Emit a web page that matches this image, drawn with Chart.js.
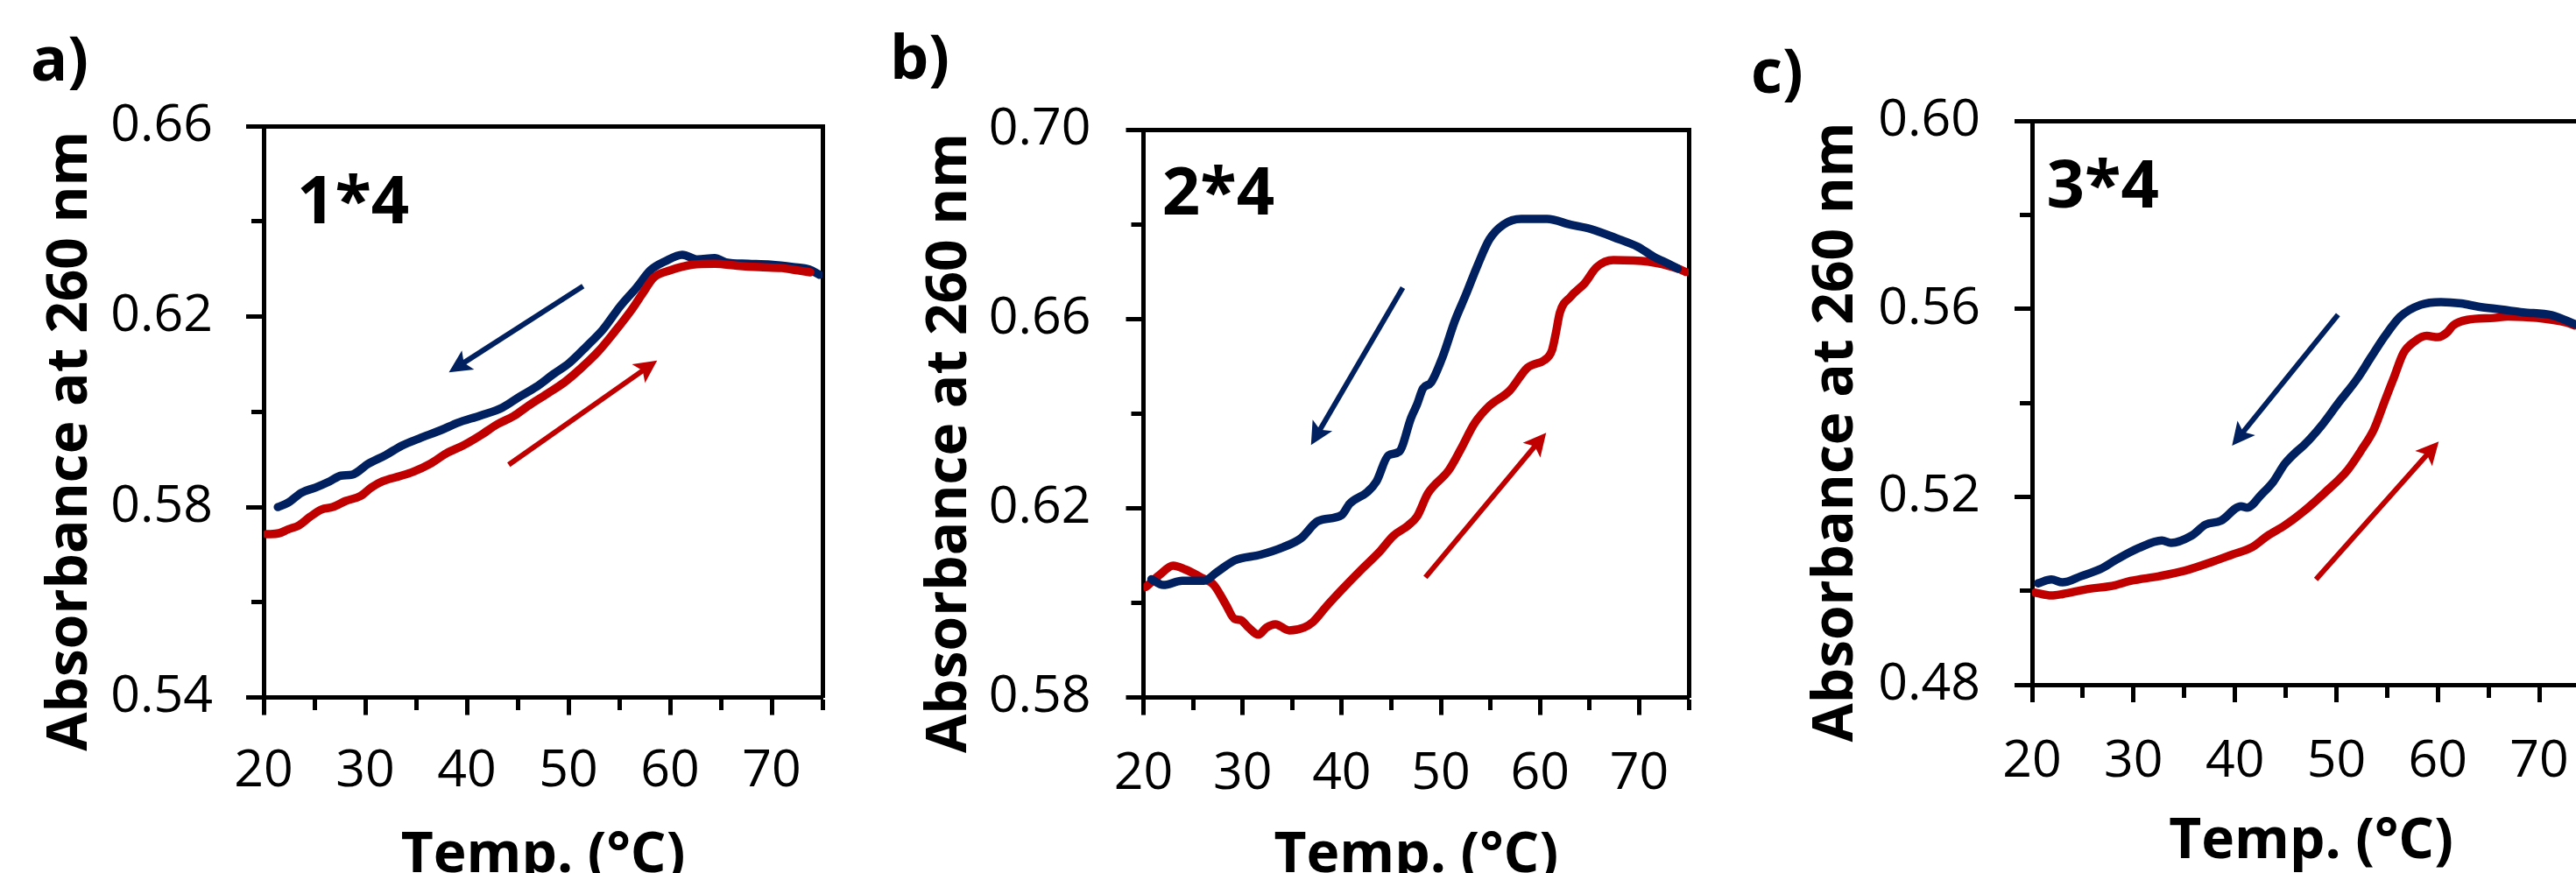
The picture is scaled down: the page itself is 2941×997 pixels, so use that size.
<!DOCTYPE html>
<html>
<head>
<meta charset="utf-8">
<script src="https://cdn.jsdelivr.net/npm/chart.js@4.4.1/dist/chart.umd.min.js"></script>
<style>
  html, body { margin: 0; padding: 0; background: #fff; overflow: hidden; width: 2941px; height: 997px; }
  .panel { position: absolute; top: 0; }
</style>
</head>
<body>
<div class="panel" style="left:0px"><canvas id="chartA" width="990" height="1040" style="width:990px;height:1040px"></canvas></div>
<div class="panel" style="left:990px"><canvas id="chartB" width="970" height="1040" style="width:970px;height:1040px"></canvas></div>
<div class="panel" style="left:1960px"><canvas id="chartC" width="1060" height="1040" style="width:1060px;height:1040px"></canvas></div>
<script>
// ---------------- DATA ----------------
// Panel a) 1*4
const tempA_cool = [21.4,22.4,23.7,25.1,26.5,27.6,28.7,30.3,32.0,33.6,35.3,37.5,39.1,41.3,43.5,45.2,46.8,48.5,50.1,51.8,53.4,55.1,56.7,58.1,59.5,61.2,62.7,64.4,65.5,67.7,69.9,72.1,73.7,74.7];
const absA_cool  = [0.5800,0.5809,0.5830,0.5841,0.5854,0.5866,0.5868,0.5891,0.5909,0.5929,0.5944,0.5962,0.5977,0.5992,0.6009,0.6032,0.6052,0.6079,0.6103,0.6138,0.6173,0.6222,0.6261,0.6298,0.6316,0.6330,0.6320,0.6323,0.6314,0.6311,0.6309,0.6304,0.6299,0.6288];
const tempA_heat = [20.3,21.5,22.4,23.5,24.6,25.7,26.8,28.1,29.5,30.6,31.7,33.4,34.7,36.4,38.0,39.7,41.3,43.0,44.6,46.0,47.9,49.6,51.2,52.9,54.5,56.2,57.3,58.4,60.0,62.2,64.4,66.6,68.8,71.0,72.6,73.8];
const absA_heat  = [0.5743,0.5745,0.5753,0.5762,0.5780,0.5795,0.5800,0.5813,0.5823,0.5841,0.5854,0.5865,0.5874,0.5891,0.5913,0.5930,0.5950,0.5974,0.5991,0.6012,0.6038,0.6062,0.6091,0.6126,0.6167,0.6214,0.6249,0.6282,0.6297,0.6309,0.6311,0.6307,0.6304,0.6302,0.6297,0.6293];

// Panel b) 2*4
const tempB_cool = [20.8,22.0,23.9,26.1,27.4,29.2,31.8,34.1,35.9,37.6,40.0,40.8,42.6,43.5,44.7,45.8,47.0,47.6,48.2,49.0,50.2,51.4,52.5,53.7,54.9,56.3,58.1,60.7,63.1,65.1,68.0,69.8,71.5,73.0,73.9];
const absB_cool  = [0.6050,0.6038,0.6047,0.6047,0.6065,0.6090,0.6102,0.6118,0.6137,0.6173,0.6186,0.6210,0.6235,0.6257,0.6312,0.6320,0.6392,0.6420,0.6454,0.6466,0.6522,0.6596,0.6651,0.6714,0.6769,0.6800,0.6812,0.6812,0.6800,0.6791,0.6769,0.6754,0.6732,0.6717,0.6707];
const tempB_heat = [20.25,21.6,23.0,24.2,25.9,27.1,28.3,29.2,29.8,30.6,31.6,32.4,33.3,34.7,36.2,37.1,38.5,40.0,42.0,43.8,45.2,46.7,47.6,48.7,50.8,52.0,53.4,54.9,56.9,58.7,59.3,60.4,61.2,61.6,62.0,63.1,64.5,65.7,67.4,70.9,73.9,74.7];
const absB_heat  = [0.6034,0.6059,0.6079,0.6071,0.6053,0.6038,0.5997,0.5966,0.5964,0.5948,0.5933,0.5948,0.5955,0.5942,0.5948,0.5960,0.5994,0.6028,0.6071,0.6108,0.6142,0.6164,0.6183,0.6232,0.6281,0.6325,0.6380,0.6417,0.6448,0.6497,0.6504,0.6513,0.6534,0.6571,0.6614,0.6648,0.6676,0.6710,0.6725,0.6722,0.6707,0.6700];

// Panel c) 3*4
const tempC_cool = [20.6,21.9,23.0,24.8,26.8,28.2,30.5,32.8,33.7,35.7,37.1,38.6,40.6,41.2,42.6,43.8,44.9,46.0,46.8,48.5,50.2,52.0,53.4,54.8,56.3,58.3,60.3,62.3,64.0,66.3,68.4,71.2,73.5];
const absC_cool  = [0.5016,0.5024,0.5018,0.5031,0.5047,0.5065,0.5091,0.5107,0.5102,0.5117,0.5141,0.5149,0.5180,0.5177,0.5205,0.5233,0.5270,0.5295,0.5310,0.5351,0.5400,0.5450,0.5497,0.5543,0.5584,0.5609,0.5615,0.5612,0.5605,0.5599,0.5593,0.5587,0.5568];
const tempC_heat = [20.3,21.9,23.0,25.3,28.2,29.7,32.5,35.1,37.4,39.7,41.7,43.2,44.9,46.7,48.8,51.1,52.5,53.7,54.8,55.7,56.6,57.7,58.9,60.0,60.9,61.5,62.9,65.5,66.9,69.8,72.7,73.5];
const absC_heat  = [0.4996,0.4990,0.4993,0.5003,0.5012,0.5021,0.5031,0.5043,0.5059,0.5077,0.5093,0.5117,0.5139,0.5168,0.5208,0.5257,0.5301,0.5344,0.5406,0.5456,0.5506,0.5531,0.5543,0.5540,0.5550,0.5565,0.5577,0.5581,0.5584,0.5581,0.5571,0.5565];

// Tick labels
const xTickLabels = [20, 30, 40, 50, 60, 70];
const yTickLabelsA = [0.54, 0.58, 0.62, 0.66];
const yTickLabelsB = [0.58, 0.62, 0.66, 0.70];
const yTickLabelsC = [0.48, 0.52, 0.56, 0.60];

// Text
const panelLabels = ['a)', 'b)', 'c)'];
const panelTags = ['1*4', '2*4', '3*4'];
const xTitle = 'Temp. (°C)';
const yTitle = 'Absorbance at 260 nm';

// Arrow annotations (data units: [temp, absorbance])
const arrowA_cool = [[51.44, 0.6264], [38.23, 0.6083]];
const arrowA_heat = [[44.12, 0.5889], [58.73, 0.6108]];
const arrowB_cool = [[46.16, 0.6667], [36.90, 0.6334]];
const arrowB_heat = [[48.44, 0.6054], [60.62, 0.6360]];
const arrowC_cool = [[50.16, 0.5588], [39.71, 0.5309]];
const arrowC_heat = [[47.98, 0.5024], [60.09, 0.5318]];
// Tag anchor (data units)
const tagAtA = [23.27, 0.6396];
const tagAtB = [21.88, 0.6821];
const tagAtC = [21.43, 0.5816];

// ---------------- STYLE ----------------
const BLUE = '#002060';
const RED = '#C00000';
const FONT = "'Open Sans', sans-serif";
Chart.defaults.color = '#000';
Chart.defaults.font.family = FONT;

const decorPlugin = {
  id: 'panelDecor',
  afterDatasetsDraw(chart, args, opts) {
    const ctx = chart.ctx;
    const xs = chart.scales.x, ys = chart.scales.y;
    ctx.save();
    (opts.arrows || []).forEach(a => {
      const x0 = xs.getPixelForValue(a.pts[0][0]), y0 = ys.getPixelForValue(a.pts[0][1]);
      const x1 = xs.getPixelForValue(a.pts[1][0]), y1 = ys.getPixelForValue(a.pts[1][1]);
      const dx = x1 - x0, dy = y1 - y0, len = Math.hypot(dx, dy);
      const ux = dx / len, uy = dy / len, nx = -uy, ny = ux;
      const L = 26, W = 13;
      ctx.strokeStyle = a.color; ctx.fillStyle = a.color;
      ctx.lineWidth = 6; ctx.lineCap = 'butt';
      ctx.beginPath();
      ctx.moveTo(x0, y0);
      ctx.lineTo(x1 - ux * L * 0.7, y1 - uy * L * 0.7);
      ctx.stroke();
      ctx.beginPath();
      ctx.moveTo(x1, y1);
      ctx.lineTo(x1 - ux * L + nx * W, y1 - uy * L + ny * W);
      ctx.lineTo(x1 - ux * L * 0.78, y1 - uy * L * 0.78);
      ctx.lineTo(x1 - ux * L - nx * W, y1 - uy * L - ny * W);
      ctx.closePath();
      ctx.fill();
    });
    if (opts.tag) {
      ctx.font = "bold 76px " + FONT;
      ctx.fillStyle = '#000';
      ctx.textAlign = 'left';
      ctx.textBaseline = 'alphabetic';
      ctx.fillText(opts.tag, xs.getPixelForValue(opts.tagAt[0]), ys.getPixelForValue(opts.tagAt[1]));
    }
    ctx.restore();
  }
};

function pts(t, a) { return t.map((v, i) => ({ x: v, y: a[i] })); }

function makePanel(id, p) {
  const near = (list, v) => list.some(m => Math.abs(m - v) < 1e-6);
  const isMajorX = v => near(xTickLabels, v);
  const isMajorY = v => near(p.yLabels, v);
  const titleFont = { family: FONT, size: 64, weight: 'bold', lineHeight: 1.2 };
  const labelFont = { family: FONT, size: 70, weight: 'bold', lineHeight: 1.2 };
  const tickFont = { family: FONT, size: 59, lineHeight: 1.2 };
  const lineStyle = { borderWidth: 9.5, pointRadius: 0, cubicInterpolationMode: 'monotone', borderCapStyle: 'round', borderJoinStyle: 'round', fill: false };
  return new Chart(document.getElementById(id), {
    type: 'line',
    data: {
      datasets: [
        Object.assign({ label: 'cooling', data: pts(p.coolT, p.coolA), borderColor: BLUE, backgroundColor: BLUE, order: p.blueOrder }, lineStyle),
        Object.assign({ label: 'heating', data: pts(p.heatT, p.heatA), borderColor: RED, backgroundColor: RED, order: p.redOrder }, lineStyle)
      ]
    },
    options: {
      responsive: false,
      animation: false,
      devicePixelRatio: 1,
      layout: { padding: { left: p.padL, right: p.padR, top: 0, bottom: 0 } },
      plugins: {
        legend: { display: false },
        tooltip: { enabled: false },
        title: {
          display: true, text: p.label, align: 'start', color: '#000',
          font: labelFont, padding: { top: p.titleTop, bottom: p.titleBottom }
        },
        panelDecor: { tag: p.tag, tagAt: p.tagAt, arrows: p.arrows }
      },
      scales: {
        x: {
          type: 'linear', position: 'bottom', min: 20, max: 75,
          afterFit: s => { s.height = p.xH; },
          ticks: {
            stepSize: 5, autoSkip: false, maxRotation: 0, minRotation: 0, padding: p.xPad,
            font: tickFont, color: '#000',
            callback: v => isMajorX(v) ? String(Math.round(v)) : ''
          },
          grid: {
            drawOnChartArea: false, drawTicks: true, tickLength: 20, tickWidth: 5, tickColor: '#000',
            tickBorderDash: c => (c.tick && !isMajorX(c.tick.value)) ? [12, 100] : []
          },
          border: { display: true, color: '#000', width: 5 },
          title: { display: true, text: xTitle, color: '#000', font: titleFont, padding: { top: 0, bottom: p.xTitlePad } }
        },
        y: {
          type: 'linear', position: 'left', min: p.yMin, max: p.yMax,
          afterFit: s => { s.width = p.yW; },
          ticks: {
            stepSize: 0.02, autoSkip: false, padding: p.yPad,
            font: tickFont, color: '#000',
            callback: v => isMajorY(v) ? Number(v).toFixed(2) : ''
          },
          grid: {
            drawOnChartArea: false, drawTicks: true, tickLength: 20, tickWidth: 5, tickColor: '#000',
            tickBorderDash: c => (c.tick && !isMajorY(c.tick.value)) ? [0, 6, 12, 100] : []
          },
          border: { display: true, color: '#000', width: 5 },
          title: { display: true, text: yTitle + '    ', color: '#000', font: titleFont, padding: { top: p.yTitlePad, bottom: 0 } }
        },
        x2: {
          type: 'linear', position: 'top', min: 20, max: 75,
          afterFit: s => { s.height = 0; },
          ticks: { display: false },
          grid: { drawOnChartArea: false, drawTicks: false },
          border: { display: true, color: '#000', width: 5 }
        },
        y2: {
          type: 'linear', position: 'right', min: p.yMin, max: p.yMax,
          afterFit: s => { s.width = 0; },
          ticks: { display: false },
          grid: { drawOnChartArea: false, drawTicks: false },
          border: { display: true, color: '#000', width: 5 }
        }
      }
    },
    plugins: [decorPlugin]
  });
}

makePanel('chartA', {
  coolT: tempA_cool, coolA: absA_cool, heatT: tempA_heat, heatA: absA_heat,
  blueOrder: 1, redOrder: 0,
  yMin: 0.54, yMax: 0.66, yLabels: yTickLabelsA,
  label: panelLabels[0], tag: panelTags[0], tagAt: tagAtA,
  arrows: [{ pts: arrowA_cool, color: BLUE }, { pts: arrowA_heat, color: RED }],
  padL: 35, padR: 51, yW: 266, titleTop: 30, titleBottom: 30.1,
  xH: 243.4, xPad: 29, yPad: 38, yTitlePad: 7.4, xTitlePad: 23.8
});
makePanel('chartB', {
  coolT: tempB_cool, coolA: absB_cool, heatT: tempB_heat, heatA: absB_heat,
  blueOrder: 0, redOrder: 1,
  yMin: 0.58, yMax: 0.70, yLabels: yTickLabelsB,
  label: panelLabels[1], tag: panelTags[1], tagAt: tagAtB,
  arrows: [{ pts: arrowB_cool, color: BLUE }, { pts: arrowB_heat, color: RED }],
  padL: 26, padR: 27, yW: 289.5, titleTop: 28, titleBottom: 36.6,
  xH: 243.4, xPad: 32, yPad: 40, yTitlePad: 30.4, xTitlePad: 23.8
});
makePanel('chartC', {
  coolT: tempC_cool, coolA: absC_cool, heatT: tempC_heat, heatA: absC_heat,
  blueOrder: 0, redOrder: 1,
  yMin: 0.48, yMax: 0.60, yLabels: yTickLabelsC,
  label: panelLabels[2], tag: panelTags[2], tagAt: tagAtC,
  arrows: [{ pts: arrowC_cool, color: BLUE }, { pts: arrowC_heat, color: RED }],
  padL: 39, padR: 63, yW: 321, titleTop: 44, titleBottom: 10.4,
  xH: 258, xPad: 33, yPad: 39, yTitlePad: 58.9, xTitlePad: 39.8
});
</script>
</body>
</html>
